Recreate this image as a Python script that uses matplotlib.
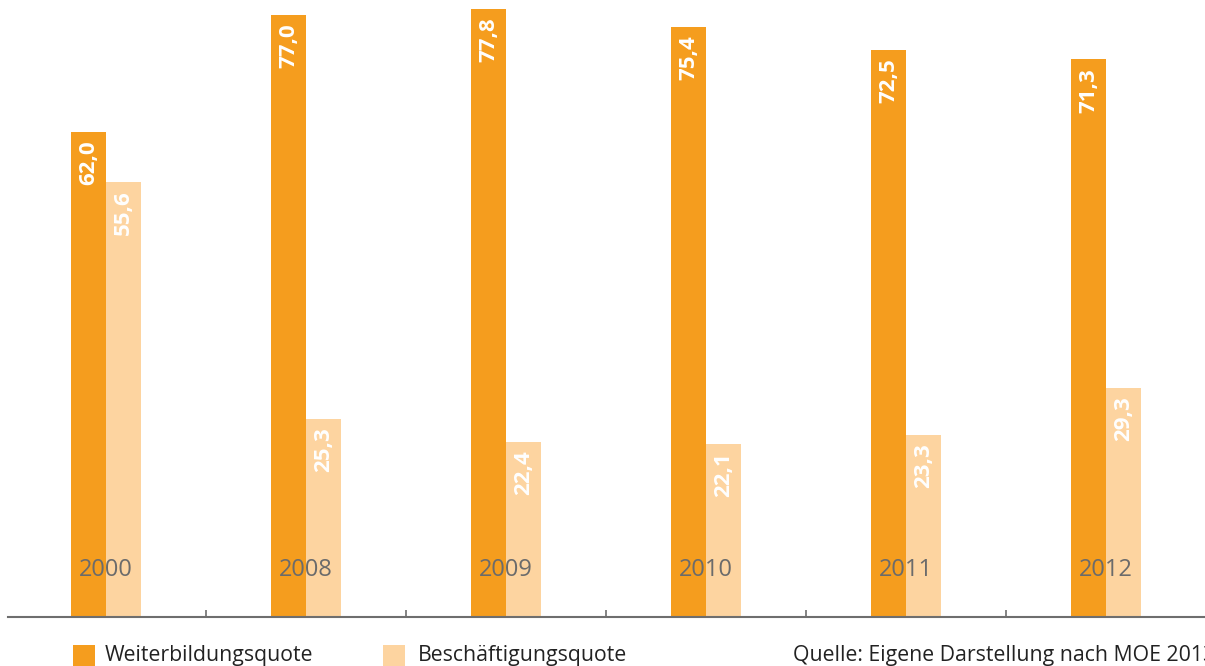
import matplotlib
matplotlib.use("Agg")
import matplotlib.pyplot as plt
from matplotlib.patches import Rectangle
import numpy as np

years = ["2000", "2008", "2009", "2010", "2011", "2012"]
weiterbildung = [62.0, 77.0, 77.8, 75.4, 72.5, 71.3]
beschaeftigung = [55.6, 25.3, 22.4, 22.1, 23.3, 29.3]
series_names = ["Weiterbildungsquote", "Beschäftigungsquote"]
source = "Quelle: Eigene Darstellung nach MOE 2013"

c_orange = "#F59D1E"
c_light = "#FDD4A0"
c_year = "#6B6B6B"
c_axis = "#6E6E6E"

plt.rcParams['font.family'] = ['Open Sans', 'DejaVu Sans']

W, H = 1205, 666
fig = plt.figure(figsize=(W/100, H/100), dpi=100)
ax = fig.add_axes([8/W, (H-617)/H, 1-8/W, 617/H])

x = np.arange(len(years))
bw = 0.175
b1 = ax.bar(x - bw/2, weiterbildung, bw, color=c_orange, linewidth=0)
b2 = ax.bar(x + bw/2, beschaeftigung, bw, color=c_light, linewidth=0)

ax.set_xlim(-0.49, 5.495)
ax.set_ylim(0, 78.9)

def fmt(v):
    return f"{v:.1f}".replace(".", ",")

for bars, vals in ((b1, weiterbildung), (b2, beschaeftigung)):
    for b, v in zip(bars, vals):
        ax.annotate(fmt(v), (b.get_x() + b.get_width()/2, v), xytext=(0, -6),
                    textcoords="offset points", rotation=90, ha="center", va="top",
                    color="white", fontsize=16, fontweight="bold")

for xi, yr in zip(x, years):
    ax.text(xi, 6.0, yr, ha="center", va="center", color=c_year, fontsize=17)

for s in ["top", "right", "left"]:
    ax.spines[s].set_visible(False)
ax.spines["bottom"].set_color(c_axis)
ax.spines["bottom"].set_linewidth(1.5)
ax.set_yticks([])
ax.set_xticks(x[:-1] + 0.5)
ax.set_xticklabels([])
ax.tick_params(axis="x", direction="in", length=5, color=c_axis, width=1.2)

# legend
fig.patches.append(Rectangle((73/W, 0), 22/W, 21/H, transform=fig.transFigure, color=c_orange, linewidth=0))
fig.patches.append(Rectangle((383/W, 0), 22/W, 21/H, transform=fig.transFigure, color=c_light, linewidth=0))
fs = 15.3
fig.text(105/W, 5/H, series_names[0], ha="left", va="baseline", fontsize=fs, color="#222222")
fig.text(418/W, 5/H, series_names[1], ha="left", va="baseline", fontsize=fs, color="#222222")
fig.text(793/W, 5/H, source, ha="left", va="baseline", fontsize=fs, color="#222222")

fig.savefig("out.png", dpi=100)
